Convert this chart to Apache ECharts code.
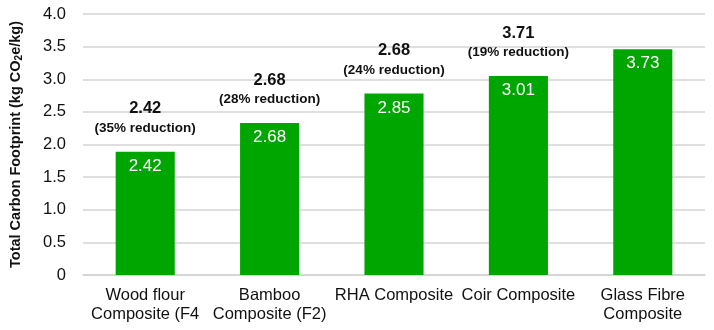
<!DOCTYPE html>
<html>
<head>
<meta charset="utf-8">
<script src="https://cdn.jsdelivr.net/npm/echarts@6/dist/echarts.min.js"></script>
<style>html,body{margin:0;padding:0;background:#fff}#c{width:714px;height:330px}</style>
</head>
<body>
<div id="c"></div>
<script>
var categories = ['Wood flour\nComposite (F4', 'Bamboo\nComposite (F2)', 'RHA Composite', 'Coir Composite', 'Glass Fibre\nComposite'];
var barHeights = [1.89, 2.33, 2.78, 3.05, 3.46];
var barLabels = ['2.42', '2.68', '2.85', '3.01', '3.73'];
var annotValues = ['2.42', '2.68', '2.68', '3.71', ''];
var annotReductions = ['35%', '28%', '24%', '19%', ''];
var yTicks = [0, 0.5, 1.0, 1.5, 2.0, 2.5, 3.0, 3.5, 4.0];

var FONT = 'Liberation Sans, Arial, sans-serif';
var chart = echarts.init(document.getElementById('c'), null, {renderer: 'canvas'});
chart.setOption({
  animation: false,
  textStyle: {fontFamily: FONT},
  grid: {left: 82, right: 9, top: 14, bottom: 55, containLabel: false},
  xAxis: {
    type: 'category',
    data: categories,
    axisTick: {show: false},
    axisLine: {lineStyle: {color: '#d4d4d4', width: 1.5}},
    axisLabel: {color: '#111', fontSize: 16.5, lineHeight: 19, margin: 11, verticalAlign: 'top', interval: 0, fontFamily: FONT}
  },
  yAxis: {
    type: 'value',
    min: yTicks[0],
    max: yTicks[yTicks.length - 1],
    interval: 0.5,
    axisLine: {show: false},
    axisTick: {show: false},
    splitLine: {lineStyle: {color: '#d4d4d4', width: 1.5}},
    axisLabel: {
      color: '#111', fontSize: 16.5, margin: 17, fontFamily: FONT,
      formatter: function (v) { return v === 0 ? '0' : v.toFixed(1); }
    },
    name: 'Total Carbon Footprint (kg CO{sub|2}e/kg)',
    nameLocation: 'middle',
    nameGap: 59,
    nameRotate: 90,
    nameTextStyle: {
      fontSize: 14.5, fontWeight: 'bold', color: '#111', fontFamily: FONT,
      rich: {sub: {fontSize: 10, fontWeight: 'bold', verticalAlign: 'bottom', padding: [7, 0, 0, 0], color: '#111'}}
    }
  },
  series: [
    {
      type: 'bar',
      data: barHeights,
      barWidth: '47.5%',
      itemStyle: {color: '#00a600'},
      label: {
        show: true, position: 'insideTop', distance: 6,
        color: '#fff', fontSize: 17, fontFamily: FONT,
        formatter: function (p) { return barLabels[p.dataIndex]; }
      }
    },
    {
      type: 'bar',
      data: barHeights,
      barWidth: '47.5%',
      barGap: '-100%',
      itemStyle: {color: 'rgba(0,0,0,0)'},
      silent: true,
      label: {
        show: true, position: 'top', distance: 15,
        formatter: function (p) {
          var i = p.dataIndex;
          if (!annotValues[i]) return '';
          return '{n|' + annotValues[i] + '}\n{r|(' + annotReductions[i] + ' reduction)}';
        },
        rich: {
          n: {fontSize: 16.5, fontWeight: 'bold', color: '#111', lineHeight: 22, fontFamily: FONT},
          r: {fontSize: 13.5, fontWeight: 'bold', color: '#111', lineHeight: 17, fontFamily: FONT}
        }
      }
    }
  ]
});
</script>
</body>
</html>
